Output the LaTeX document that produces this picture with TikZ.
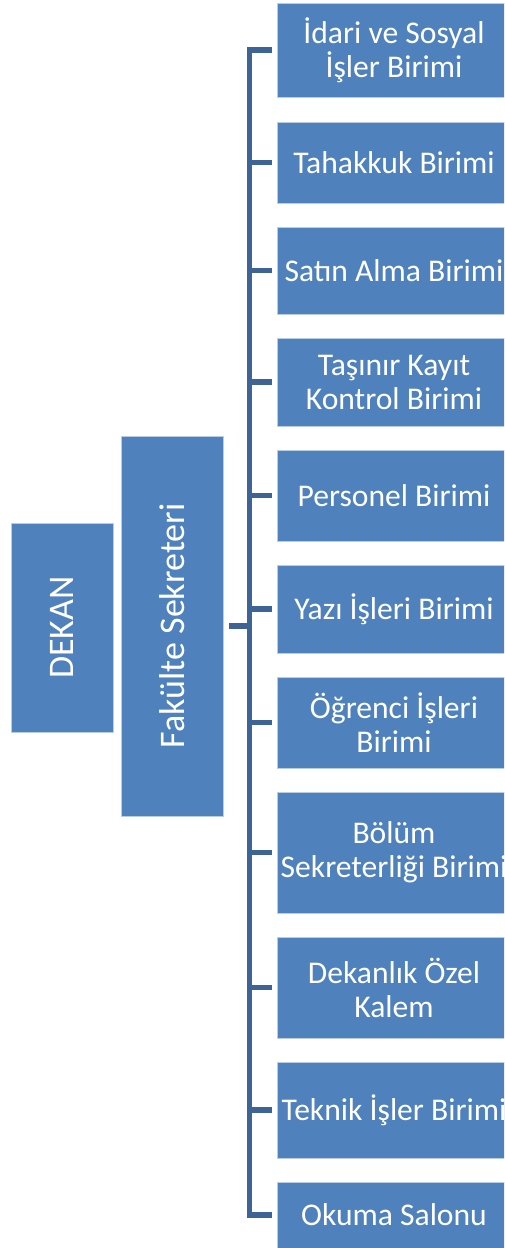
\documentclass[tikz,border=0pt]{standalone}
\usepackage{fontspec}
\setmainfont{Carlito}
\definecolor{boxblue}{RGB}{79,129,189}
\definecolor{boxedge}{RGB}{185,205,229}
\definecolor{linkblue}{RGB}{61,100,149}

\begin{document}
\begin{tikzpicture}[line join=miter,x=1pt,y=-1pt,
	unit/.style={fill=boxblue,draw=boxedge,line width=0.75pt,text=white,inner sep=0pt,minimum width=234pt,align=center,font=\fontsize{31.6}{34}\selectfont},
	head/.style={fill=boxblue,draw=boxedge,line width=0.75pt,text=white,inner sep=0pt,minimum width=102pt,font=\fontsize{36}{40}\selectfont},
	link/.style={draw=linkblue,line width=5.5pt}]
			\clip (0,0) rectangle (504,1248);
			% left column
			\node[head,minimum height=209pt] (dekan) at (62,627.5) {\rotatebox{90}{DEKAN}};
			\node[head,minimum height=380pt] (sekreter) at (172,626) {\rotatebox{90}{Fakülte Sekreteri}};
			% units
			\node[unit,minimum height=94pt] (idari) at (394,50) {İdari ve Sosyal\\İşler Birimi};
			\node[unit,minimum height=81pt] (tahakkuk) at (394,162.5) {Tahakkuk Birimi};
			\node[unit,minimum height=87pt] (satin) at (394,270.5) {Satın Alma Birimi};
			\node[unit,minimum height=88pt] (tasinir) at (394,382) {Taşınır Kayıt\\Kontrol Birimi};
			\node[unit,minimum height=91pt] (personel) at (394,495.5) {Personel Birimi};
			\node[unit,minimum height=88pt] (yazi) at (394,609) {Yazı İşleri Birimi};
			\node[unit,minimum height=91pt] (ogrenci) at (394,722.5) {Öğrenci İşleri\\Birimi};
			\node[unit,minimum height=121pt] (bolum) at (394,852.5) {Bölüm\\Sekreterliği Birimi};
			\node[unit,minimum height=101pt] (ozel) at (394,987.5) {Dekanlık Özel\\Kalem};
			\node[unit,minimum height=96pt] (teknik) at (394,1110) {Teknik İşler Birimi};
			\node[unit,minimum height=66pt] (okuma) at (394,1215) {Okuma Salonu};
			% bracket
			\coordinate (trunk) at (249.5,0);
			\draw[link] ([xshift=-5pt]idari.west) -- (idari.west -| trunk) -- (okuma.west -| trunk) -- ([xshift=-5pt]okuma.west);
			\draw[link] ([xshift=6pt]sekreter.east) -- (sekreter.east -| trunk);
			\draw[link] ([xshift=-5pt]tahakkuk.west) -- (tahakkuk.west -| trunk);
			\draw[link] ([xshift=-5pt]satin.west) -- (satin.west -| trunk);
			\draw[link] ([xshift=-5pt]tasinir.west) -- (tasinir.west -| trunk);
			\draw[link] ([xshift=-5pt]personel.west) -- (personel.west -| trunk);
			\draw[link] ([xshift=-5pt]yazi.west) -- (yazi.west -| trunk);
			\draw[link] ([xshift=-5pt]ogrenci.west) -- (ogrenci.west -| trunk);
			\draw[link] ([xshift=-5pt]bolum.west) -- (bolum.west -| trunk);
			\draw[link] ([xshift=-5pt]ozel.west) -- (ozel.west -| trunk);
			\draw[link] ([xshift=-5pt]teknik.west) -- (teknik.west -| trunk);
\end{tikzpicture}
\end{document}
